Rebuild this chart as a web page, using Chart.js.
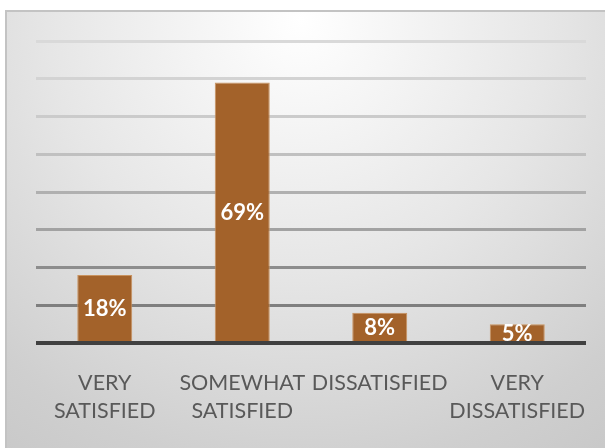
<!DOCTYPE html>
<html>
<head>
<meta charset="utf-8">
<script src="https://cdn.jsdelivr.net/npm/chart.js@4.4.1/dist/chart.umd.min.js"></script>
<style>
  html, body { margin: 0; padding: 0; background: #ffffff; }
  #wrap { width: 605px; height: 448px; position: relative; }
</style>
</head>
<body>
<div id="wrap"><canvas id="c" width="605" height="448"></canvas></div>
<script>
const categories = [['VERY', 'SATISFIED'], ['SOMEWHAT', 'SATISFIED'], ['DISSATISFIED'], ['VERY', 'DISSATISFIED']];
const values = [18, 69, 8, 5];
const valueLabels = ['18%', '69%', '8%', '5%'];
const yMin = 0;
const yMax = 80;
const yStep = 10;

const FONT = 'Lato, "Open Sans", sans-serif';

// grid colours darken toward the baseline
const gridColors = {0: '#404040', 10: '#7f7f7f', 20: '#8d8d8d', 30: '#a2a2a2', 40: '#b0b0b0', 50: '#c0c0c0', 60: '#cbcbcb', 70: '#d3d3d3', 80: '#d9d9d9'};

const bgPlugin = {
  id: 'bg',
  beforeDraw(chart) {
    const ctx = chart.ctx;
    const x0 = 5, y0 = 10, x1 = chart.width, y1 = chart.height;
    ctx.save();
    ctx.fillStyle = '#ffffff';
    ctx.fillRect(0, 0, chart.width, chart.height);
    const g = ctx.createRadialGradient(300, 20, 0, 300, 20, 560);
    g.addColorStop(0, '#ffffff');
    g.addColorStop(0.45, '#e6e6e6');
    g.addColorStop(0.8, '#cfcfcf');
    g.addColorStop(1, '#c6c6c6');
    ctx.fillStyle = g;
    ctx.fillRect(x0, y0, x1 - x0, y1 - y0);
    ctx.strokeStyle = '#c3c3c3';
    ctx.lineWidth = 2;
    ctx.beginPath();
    ctx.moveTo(x0 + 1, y1);
    ctx.lineTo(x0 + 1, y0 + 1);
    ctx.lineTo(x1, y0 + 1);
    ctx.stroke();
    ctx.restore();
  }
};

const labelPlugin = {
  id: 'valueLabels',
  afterDatasetsDraw(chart) {
    const ctx = chart.ctx;
    const meta = chart.getDatasetMeta(0);
    ctx.save();
    ctx.fillStyle = '#ffffff';
    ctx.font = 'bold 22px ' + FONT;
    ctx.textAlign = 'center';
    ctx.textBaseline = 'middle';
    meta.data.forEach((bar, i) => {
      const p = bar.getProps(['x', 'y', 'base'], true);
      ctx.fillText(valueLabels[i], p.x, (p.y + p.base) / 2 + 1);
    });
    ctx.restore();
  }
};

new Chart(document.getElementById('c'), {
  type: 'bar',
  data: {
    labels: categories,
    datasets: [{
      data: values,
      backgroundColor: '#A3622A',
      borderColor: '#c9935f',
      borderWidth: 1,
      barPercentage: 0.4,
      categoryPercentage: 1.0
    }]
  },
  options: {
    responsive: false,
    animation: false,
    events: [],
    layout: { padding: { left: 36, right: 19, top: 41, bottom: 0 } },
    plugins: { legend: { display: false }, tooltip: { enabled: false } },
    scales: {
      x: {
        grid: { display: false, drawTicks: false },
        border: { display: false },
        ticks: {
          color: '#595959',
          font: { family: FONT, size: 21.5, lineHeight: 1.3 },
          padding: 26,
          maxRotation: 0,
          autoSkip: false
        },
        afterFit(axis) { axis.height = 105; axis.paddingLeft = 0; axis.paddingRight = 0; }
      },
      y: {
        min: yMin,
        max: yMax,
        ticks: { display: false, stepSize: yStep },
        border: { display: false },
        grid: {
          drawTicks: false,
          lineWidth: (c) => (c.tick && c.tick.value === 0 ? 4 : 3),
          color: (c) => gridColors[c.tick ? c.tick.value : 0] || '#cccccc'
        }
      }
    }
  },
  plugins: [bgPlugin, labelPlugin]
});
</script>
</body>
</html>
